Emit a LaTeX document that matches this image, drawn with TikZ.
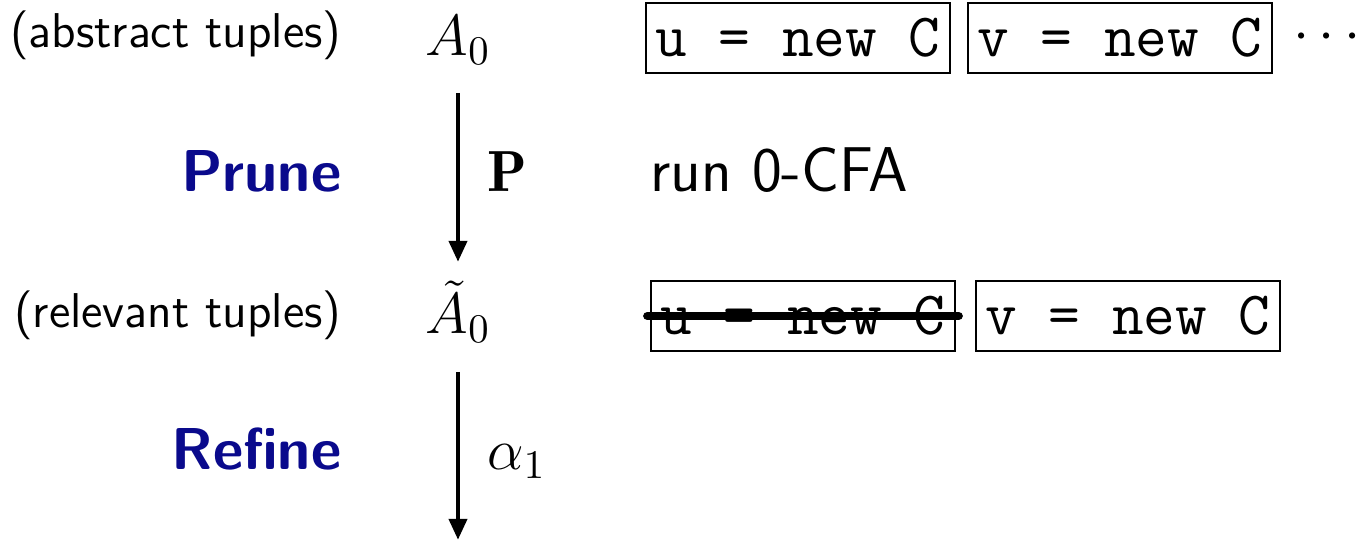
\RequirePackage{fix-cm}
\documentclass[tikz,border=0pt]{standalone}
\usepackage{fontspec}
\usetikzlibrary{arrows.meta}
\definecolor{hdblue}{RGB}{10,10,140}
\tikzset{
  base/.style={font=\fontsize{18}{21}\selectfont\sffamily, inner sep=0pt},
  small/.style={font=\fontsize{13.9}{16}\selectfont\sffamily, inner sep=0pt},
  mathlbl/.style={font=\fontsize{16.5}{20}\selectfont, inner sep=0pt},
  head/.style={font=\fontsize{16.8}{20}\selectfont\sffamily\bfseries, text=hdblue, inner sep=0pt},
  codebox/.style={draw, line width=0.6pt, minimum width=3.03cm, minimum height=0.7cm, inner sep=0pt,
    font=\fontsize{17.5}{20}\selectfont\ttfamily},
  arr/.style={line width=1.4pt, -{Triangle[width=5pt,length=6pt]}},
  strike/.style={line width=2.4pt, line cap=round}
}
\begin{document}
\begin{tikzpicture}[x=0.01cm,y=-0.01cm]
\useasboundingbox (0,0) rectangle (1365,540);
% row 1
\node[small, anchor=base east] (abs) at (342,48) {(abstract tuples)};
\node[mathlbl, anchor=base west] (a0) at (425,56) {$A_0$};
\node[codebox] (u1) at (798,38) {u = new C};
\node[codebox] (v1) at (1120,38) {v = new C};
\node[mathlbl] (dots) at (1327,38) {$\cdots$};
% row 2
\node[head, anchor=base east] (prune) at (342,192) {Prune};
\node[mathlbl, anchor=base west] (P) at (487,192) {$\mathbf{P}$};
\node[base, anchor=base west] (run) at (650,192) {run 0-CFA};
% row 3
\node[small, anchor=base east] (rel) at (342,328) {(relevant tuples)};
\node[mathlbl, anchor=base west] (at0) at (425,334) {$\tilde{A}_0$};
\node[codebox] (u2) at (803,316) {u = new C};
\node[codebox] (v2) at (1128,316) {v = new C};
\path (u2.west) ++(-3,0) coordinate (s1) (u2.east) ++(3,0) coordinate (s2);
\draw[strike] (s1) -- (s2);
% row 4
\node[head, anchor=base east] (refine) at (342,470) {Refine};
\node[mathlbl, anchor=base west] (alpha) at (487,470) {$\alpha_1$};
% arrows
\coordinate (e1) at (458,93);
\coordinate (e2) at (458,262);
\coordinate (e3) at (458,372);
\coordinate (e4) at (458,540);
\draw[arr] (e1) -- (e2);
\draw[arr] (e3) -- (e4);
\end{tikzpicture}
\end{document}
